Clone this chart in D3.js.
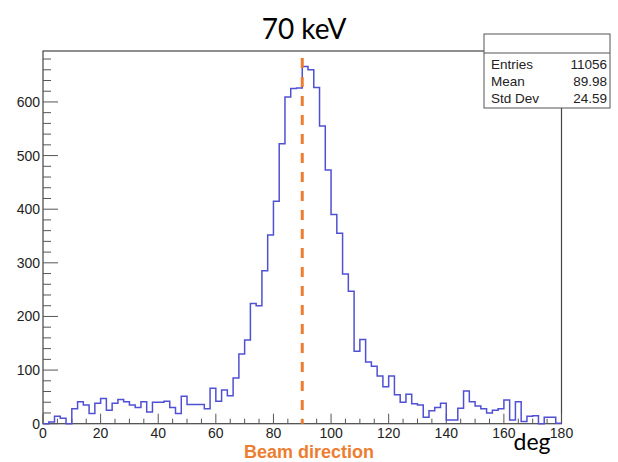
<!DOCTYPE html>
<html>
<head>
<meta charset="utf-8">
<script src="https://cdn.jsdelivr.net/npm/d3@7"></script>
<style>
  body { margin: 0; background: #fff; }
  svg text { font-family: "Liberation Sans", Arial, sans-serif; }
</style>
</head>
<body>
<div id="chart"></div>
<script>
// histogram of angle (deg), 90 bins of 2 deg each
const binEdges = d3.range(0, 182, 2);
const counts = [
    0, 3, 14, 10, 0, 28, 41, 35, 19, 38,
    47, 25, 38, 45, 41, 35, 30, 41, 22, 40,
    40, 42, 30, 19, 51, 36, 36, 36, 28, 66,
    42, 63, 52, 85, 130, 156, 224, 220, 285, 352,
    415, 522, 609, 625, 626, 666, 660, 627, 555, 473,
    390, 355, 279, 247, 135, 157, 115, 107, 89, 69,
    89, 54, 40, 55, 37, 35, 12, 24, 30, 38,
    7, 7, 29, 61, 41, 33, 28, 20, 25, 28,
    44, 7, 41, 4, 14, 15, 0, 12, 12, 1
];
const xTicks = [0, 20, 40, 60, 80, 100, 120, 140, 160, 180];
const yTicks = [0, 100, 200, 300, 400, 500, 600];
const statLabels = ["Entries", "Mean", "Std Dev"];
const statValues = ["11056", "89.98", "24.59"];
const beamAngle = 90;

const W = 618, H = 462;
const frame = {left: 43, right: 561.5, top: 51, bottom: 423.7};

const svg = d3.select("#chart").append("svg")
    .attr("width", W)
    .attr("height", H);

const x = d3.scaleLinear().domain([0, 180]).range([frame.left, frame.right]);
const y = d3.scaleLinear().domain([0, 695]).range([frame.bottom, frame.top]);

// frame
svg.append("rect")
    .attr("x", frame.left).attr("y", frame.top)
    .attr("width", frame.right - frame.left)
    .attr("height", frame.bottom - frame.top)
    .style("fill", "none")
    .style("stroke", "#444")
    .style("stroke-width", 1.2);

// x axis: majors every 20, minors every 5
const xAxis = svg.append("g").attr("class", "x-axis");
xAxis.selectAll(".minor")
    .data(d3.range(0, 181, 5))
    .enter().append("line")
    .attr("x1", d => x(d)).attr("x2", d => x(d))
    .attr("y1", frame.bottom)
    .attr("y2", d => frame.bottom - (d % 20 === 0 ? 10 : 5))
    .style("stroke", "#555");
xAxis.selectAll("text")
    .data(xTicks)
    .enter().append("text")
    .attr("x", d => x(d))
    .attr("y", 438)
    .attr("text-anchor", "middle")
    .style("font-size", "14px")
    .style("fill", "#222")
    .text(d => d);

// y axis: majors every 100, minors every 20
const yAxis = svg.append("g").attr("class", "y-axis");
yAxis.selectAll(".minor")
    .data(d3.range(0, 695, 20))
    .enter().append("line")
    .attr("x1", frame.left).attr("x2", d => frame.left + (d % 100 === 0 ? 15 : 8))
    .attr("y1", d => y(d)).attr("y2", d => y(d))
    .style("stroke", "#555");
yAxis.selectAll("text")
    .data(yTicks)
    .enter().append("text")
    .attr("x", 40)
    .attr("y", d => y(d) + 5)
    .attr("text-anchor", "end")
    .style("font-size", "14px")
    .style("fill", "#222")
    .text(d => d);

// histogram outline
const pts = counts.map((c, i) => [binEdges[i], c]);
pts.push([binEdges[binEdges.length - 1], counts[counts.length - 1]]);
const step = d3.line()
    .x(d => x(d[0]))
    .y(d => y(d[1]))
    .curve(d3.curveStepAfter);
svg.append("path")
    .datum(pts)
    .attr("d", step)
    .style("fill", "none")
    .style("stroke", "#5050d2")
    .style("stroke-width", 1.5);

// beam direction line
svg.append("line")
    .attr("x1", x(beamAngle)).attr("x2", x(beamAngle))
    .attr("y1", y(682)).attr("y2", frame.bottom)
    .style("stroke", "#ED7D31")
    .style("stroke-width", 3)
    .style("stroke-dasharray", "10,9");

// stats box
const box = {x: 484, y: 34, w: 126, h: 74};
svg.append("rect")
    .attr("x", box.x).attr("y", box.y)
    .attr("width", box.w).attr("height", box.h)
    .style("fill", "#fff")
    .style("stroke", "#555");
svg.append("line")
    .attr("x1", box.x).attr("x2", box.x + box.w)
    .attr("y1", 53).attr("y2", 53)
    .style("stroke", "#555");
statLabels.forEach((lab, i) => {
    svg.append("text")
        .attr("x", 491).attr("y", 68.5 + i * 17.3)
        .style("font-size", "13.5px").style("fill", "#222")
        .text(lab);
    svg.append("text")
        .attr("x", 607).attr("y", 68.5 + i * 17.3)
        .attr("text-anchor", "end")
        .style("font-size", "13.5px").style("fill", "#222")
        .text(statValues[i]);
});

// title and labels
svg.append("text")
    .attr("x", 304).attr("y", 39)
    .attr("text-anchor", "middle")
    .style("font-family", "Lato, 'Open Sans', sans-serif")
    .style("font-size", "28px")
    .style("fill", "#000")
    .text("70 keV");

svg.append("text")
    .attr("x", 532).attr("y", 450)
    .attr("text-anchor", "middle")
    .style("font-family", "Lato, 'Open Sans', sans-serif")
    .style("font-size", "23px")
    .style("fill", "#000")
    .text("deg");

svg.append("text")
    .attr("x", 309).attr("y", 458)
    .attr("text-anchor", "middle")
    .style("font-weight", "bold")
    .style("font-size", "18px")
    .style("fill", "#ED7D31")
    .text("Beam direction");
</script>
</body>
</html>
